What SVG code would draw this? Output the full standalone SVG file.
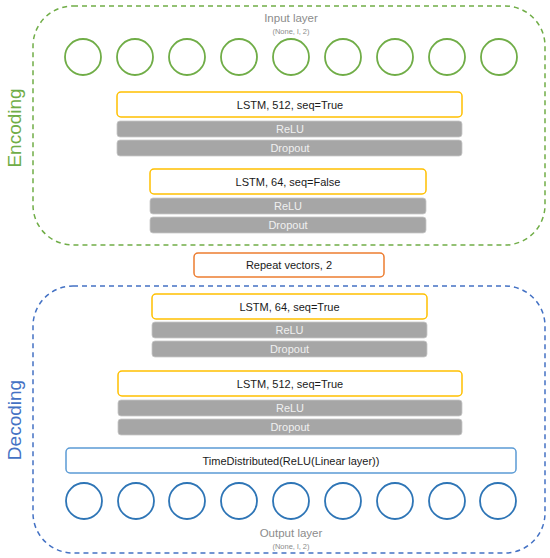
<svg xmlns="http://www.w3.org/2000/svg" width="550" height="558" viewBox="0 0 550 558">
<style>
text{font-family:"Liberation Sans",Arial,sans-serif;text-anchor:middle}
.lstm{fill:#fff;stroke:#FFC000;stroke-width:1.5}
.gray{fill:#A6A6A6;stroke:#C8C8C8;stroke-width:0.8}
.t{font-size:11px;fill:#1a1a1a}
.tg{font-size:11px;fill:#F0F0F0}
.cg{fill:none;stroke:#70AD47;stroke-width:1.8}
.cb{fill:none;stroke:#2E75B6;stroke-width:1.8}
.lbl{font-size:11.5px;fill:#8C8C8C}
.sub{font-size:7.5px;fill:#8C8C8C}
</style>
<rect width="550" height="558" fill="#fff"/>
<g id="encoding">
<rect x="33" y="6" width="512" height="239" rx="40" fill="none" stroke="#70AD47" stroke-width="1.5" stroke-dasharray="5,4"/>
<text x="21" y="128" transform="rotate(-90 21 128)" style="font-size:19px;fill:#70AD47">Encoding</text>
</g>
<g id="input-layer">
<text x="291" y="22" class="lbl">Input layer</text>
<text x="291" y="34" class="sub">(None, l, 2)</text>
<circle cx="83" cy="57" r="18" class="cg"/><circle cx="135" cy="57" r="18" class="cg"/><circle cx="187" cy="57" r="18" class="cg"/><circle cx="239" cy="57" r="18" class="cg"/><circle cx="291" cy="57" r="18" class="cg"/><circle cx="343" cy="57" r="18" class="cg"/><circle cx="395" cy="57" r="18" class="cg"/><circle cx="447" cy="57" r="18" class="cg"/><circle cx="499" cy="57" r="18" class="cg"/>
</g>
<g id="enc-lstm512">
<rect x="117" y="92" width="345" height="25" rx="4" class="lstm"/><text x="290" y="108.5" class="t">LSTM, 512, seq=True</text>
<rect x="117" y="121" width="345" height="16" rx="3" class="gray"/><text x="290" y="133" class="tg">ReLU</text>
<rect x="117" y="140" width="345" height="16" rx="3" class="gray"/><text x="290" y="152" class="tg">Dropout</text>
</g>
<g id="enc-lstm64">
<rect x="150" y="169" width="276" height="25" rx="4" class="lstm"/><text x="288" y="185.5" class="t">LSTM, 64, seq=False</text>
<rect x="150" y="198" width="276" height="16" rx="3" class="gray"/><text x="288" y="210" class="tg">ReLU</text>
<rect x="150" y="217" width="276" height="16" rx="3" class="gray"/><text x="288" y="229" class="tg">Dropout</text>
</g>
<g id="repeat">
<rect x="194" y="253" width="190" height="24" rx="4" fill="#fff" stroke="#ED7D31" stroke-width="1.5"/><text x="289" y="269" class="t">Repeat vectors, 2</text>
</g>
<g id="decoding">
<rect x="33" y="286" width="512" height="267" rx="40" fill="none" stroke="#4472C4" stroke-width="1.5" stroke-dasharray="5,4"/>
<text x="21" y="420" transform="rotate(-90 21 420)" style="font-size:19px;fill:#4472C4">Decoding</text>
</g>
<g id="dec-lstm64">
<rect x="152" y="294" width="275" height="25" rx="4" class="lstm"/><text x="289.5" y="310.5" class="t">LSTM, 64, seq=True</text>
<rect x="152" y="322" width="275" height="16" rx="3" class="gray"/><text x="289.5" y="334" class="tg">ReLU</text>
<rect x="152" y="341" width="275" height="16" rx="3" class="gray"/><text x="289.5" y="353" class="tg">Dropout</text>
</g>
<g id="dec-lstm512">
<rect x="118" y="371" width="344" height="25" rx="4" class="lstm"/><text x="290" y="387.5" class="t">LSTM, 512, seq=True</text>
<rect x="118" y="400" width="344" height="16" rx="3" class="gray"/><text x="290" y="412" class="tg">ReLU</text>
<rect x="118" y="419" width="344" height="16" rx="3" class="gray"/><text x="290" y="431" class="tg">Dropout</text>
</g>
<g id="timedistributed">
<rect x="66" y="448" width="450" height="25" rx="4" fill="#fff" stroke="#5B9BD5" stroke-width="1.5"/><text x="291" y="464.5" class="t">TimeDistributed(ReLU(Linear layer))</text>
</g>
<g id="output-layer">
<circle cx="84" cy="501" r="18" class="cb"/><circle cx="136" cy="501" r="18" class="cb"/><circle cx="187" cy="501" r="18" class="cb"/><circle cx="239" cy="501" r="18" class="cb"/><circle cx="291" cy="501" r="18" class="cb"/><circle cx="343" cy="501" r="18" class="cb"/><circle cx="395" cy="501" r="18" class="cb"/><circle cx="447" cy="501" r="18" class="cb"/><circle cx="498" cy="501" r="18" class="cb"/>
<text x="291" y="537" class="lbl">Output layer</text>
<text x="291" y="549" class="sub">(None, l, 2)</text>
</g>
<g id="connectors"></g>
</svg>
